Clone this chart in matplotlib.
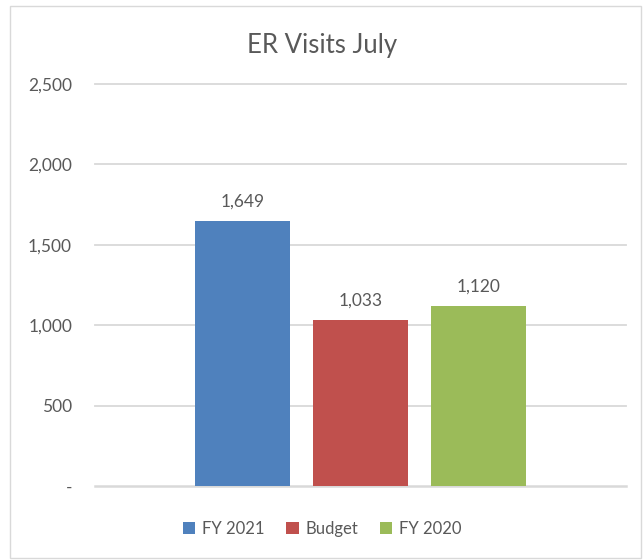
import matplotlib.pyplot as plt
from matplotlib.patches import Rectangle, Patch
from matplotlib.ticker import FuncFormatter

series = ["FY 2021", "Budget", "FY 2020"]
visits = [1649, 1033, 1120]
colors = ["#4F81BD", "#C0504D", "#9BBB59"]
yticks = [0, 500, 1000, 1500, 2000, 2500]

TXT = "#595959"
GRID = "#d9d9d9"
plt.rcParams["font.family"] = ["Lato", "DejaVu Sans"]

W, H = 644, 560
fig = plt.figure(figsize=(W / 100, H / 100), dpi=100)
# chart frame
fig.patches.append(Rectangle((10 / W, 2 / H), 631 / W, 552 / H, transform=fig.transFigure,
                             fc="none", ec=GRID, lw=1.0, zorder=0))

ax = fig.add_axes([95 / W, (H - 486) / H, 531 / W, 402 / H])
ax.set_facecolor("none")
x = range(len(series))
bars = ax.bar(x, visits, width=0.8, color=colors, zorder=3)
for b, v in zip(bars, visits):
    ax.annotate(f"{v:,}", (b.get_x() + b.get_width() / 2, v), xytext=(0, 14),
                textcoords="offset points", ha="center", va="center",
                fontsize=12.5, color=TXT)

ax.set_xlim(-1.25, 3.25)
ax.set_ylim(0, 2500)
ax.set_yticks(yticks)
ax.yaxis.set_major_formatter(FuncFormatter(lambda v, _: "-" if v == 0 else f"{int(v):,}"))
ax.tick_params(axis="y", length=0, pad=16.5, labelsize=12.5, labelcolor=TXT)
ax.set_xticks([])
for s in ax.spines.values():
    s.set_visible(False)
for t in yticks:
    ax.axhline(t, color=GRID, lw=1.3 if t else 1.8, zorder=1, clip_on=False)

fig.text(0.5, (H - 45) / H, "ER Visits July", ha="center", va="center",
         fontsize=18.5, color=TXT)

handles = [Patch(fc=c, ec="none", label=s) for s, c in zip(series, colors)]
fig.legend(handles=handles, loc="center", bbox_to_anchor=(0.5, (H - 529) / H), ncol=3,
           frameon=False, fontsize=12, labelcolor=TXT, handlelength=0.75,
           handleheight=0.75, handletextpad=0.4, columnspacing=1.3)

fig.savefig("out.png", dpi=100)
